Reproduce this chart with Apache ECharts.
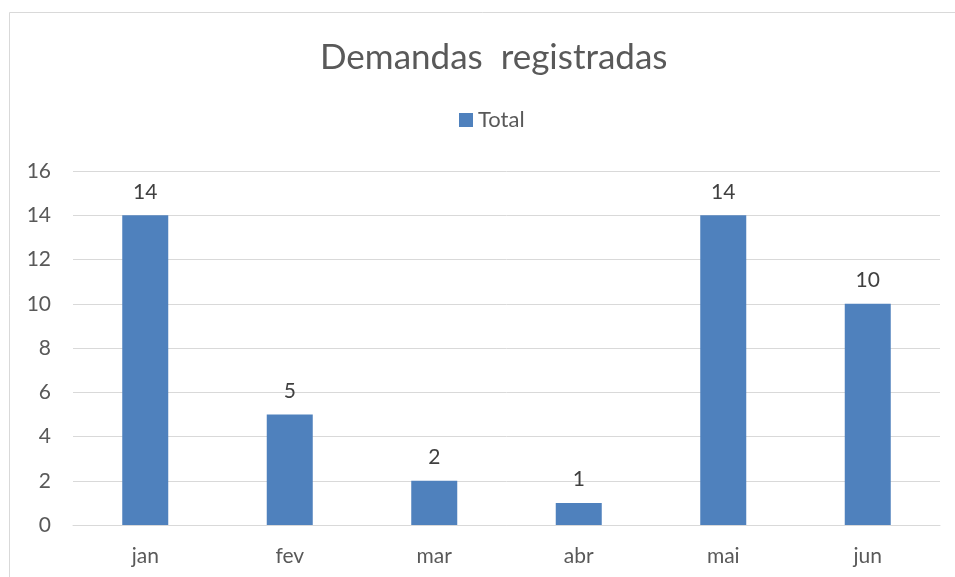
<!DOCTYPE html>
<html><head><meta charset="utf-8">
<script src="https://cdn.jsdelivr.net/npm/echarts@6/dist/echarts.min.js"></script>
<style>html,body{margin:0;padding:0;background:#fff}#c{width:955px;height:577px}</style>
</head><body><div id="c"></div>
<script>
var categories = ['jan','fev','mar','abr','mai','jun'];
var totals = [14, 5, 2, 1, 14, 10];
var seriesName = 'Total';
var titleText = 'Demandas  registradas';

var chart = echarts.init(document.getElementById('c'), null, {renderer:'canvas'});
var FONT = 'Lato, "Open Sans", sans-serif';
chart.setOption({
  animation:false,
  backgroundColor:'#fff',
  graphic:[{type:'rect', shape:{x:9.5,y:12.5,width:960,height:580}, style:{fill:'none', stroke:'#d9d9d9', lineWidth:1}, silent:true}],
  title:{text:titleText, left:315, top:35, textStyle:{fontFamily:FONT, fontSize:35, fontWeight:'normal', color:'#595959'}},
  legend:{data:[seriesName], top:104, left:454, itemWidth:14, itemHeight:14, itemGap:6, textStyle:{fontFamily:FONT, fontSize:22, color:'#595959'}, icon:'rect'},
  grid:{left:73, right:15, top:171, bottom:52, containLabel:false},
  xAxis:{type:'category', data:categories, axisLine:{lineStyle:{color:'#d9d9d9', width:1}}, axisTick:{show:false},
    axisLabel:{fontFamily:FONT, fontSize:21, color:'#595959', margin:21}},
  yAxis:{type:'value', min:0, max:16, interval:2, axisLine:{show:false}, axisTick:{show:false},
    splitLine:{lineStyle:{color:'#d9d9d9', width:1}},
    axisLabel:{fontFamily:FONT, fontSize:21, color:'#595959', margin:22}},
  series:[{name:seriesName, type:'bar', data:totals, barWidth:46, itemStyle:{color:'#4f81bd'},
    label:{show:true, position:'top', distance:13, fontFamily:FONT, fontSize:21, color:'#404040'}}]
});
</script></body></html>
